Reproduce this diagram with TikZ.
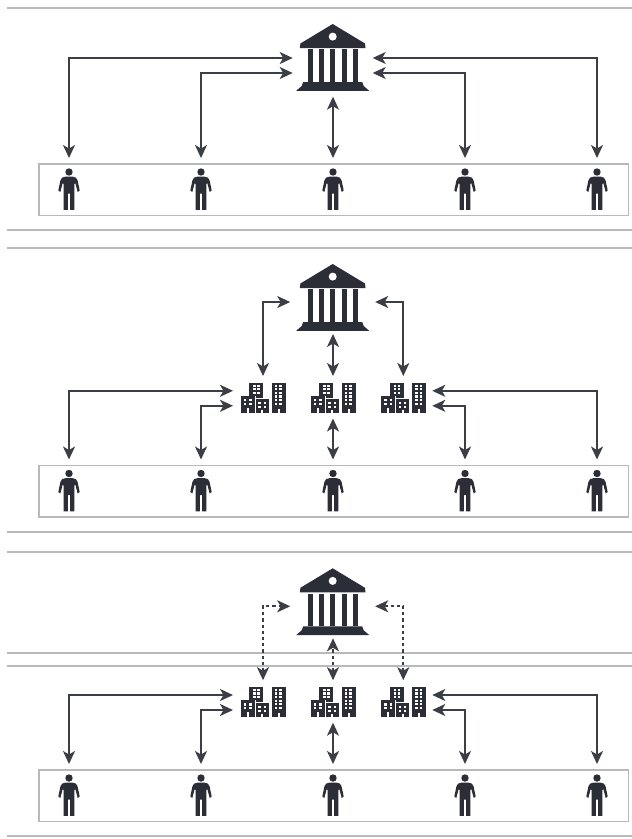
\documentclass[tikz,border=0pt]{standalone}
\usetikzlibrary{arrows.meta}
\definecolor{icon}{HTML}{2C2E37}
\definecolor{wire}{HTML}{3C3E46}
\definecolor{rule}{HTML}{B9B9B9}
\tikzset{
  x=1pt,y=-1pt,
  rulepath/.style={draw=rule,line width=2pt},
  link/.style={draw=wire,line width=1.7pt,{Stealth[length=13pt,width=12pt,inset=3.5pt]}-{Stealth[length=13pt,width=12pt,inset=3.5pt]}},
  dlink/.style={link,dash pattern=on 3.2pt off 3pt},
  panelbox/.style={draw=rule,line width=1.8pt,minimum width=589.5pt,minimum height=51.5pt,inner sep=0pt,anchor=north west},
  bank/.pic={
    \fill[icon] (0,0) -- (32.3,19.5) -- (32.8,24) -- (-32.8,24) -- (-32.3,19.5) -- cycle;
    \fill[white] (0,12.6) circle[radius=4];
    \foreach \cx in {-22.5,-11.2,0,11.4,22.6}{
      \fill[icon] (\cx-2.5,25.3) rectangle (\cx+2.5,57.5);
    }
    \fill[icon] (-29.5,58) -- (29.5,58) -- (31,62) -- (36.5,66.8) -- (-36.5,66.8) -- (-31,62) -- cycle;
    \coordinate (-wa) at (-40,34);
    \coordinate (-wb) at (-40,49);
    \coordinate (-wc) at (-42.5,38);
    \coordinate (-ea) at (40,34);
    \coordinate (-eb) at (40,49);
    \coordinate (-ec) at (42.5,38);
    \coordinate (-s) at (0,70);
    \coordinate (-t) at (0,72.7);
  },
  person/.pic={
    \fill[icon] (0,0) circle[radius=3.7];
    \fill[icon] (-3.5,4.6) -- (3.5,4.6) .. controls (6.5,4.8) and (8,6) .. (8.6,8.5)
      -- (10.7,18.5) -- (8.7,20) -- (6.3,11) -- (5.4,12) -- (5.4,37.8) -- (1.2,37.8) -- (1.2,21.5)
      -- (-1.2,21.5) -- (-1.2,37.8) -- (-5.4,37.8) -- (-5.4,12) -- (-6.3,11) -- (-8.7,20) -- (-10.7,18.5)
      -- (-8.6,8.5) .. controls (-8,6) and (-6.5,4.8) .. (-3.5,4.6) -- cycle;
    \coordinate (-n) at (0,-14);
  },
  block/.pic={
    \fill[icon] (-13.7,0) rectangle (0.3,14);
    \fill[icon] (8.7,0) rectangle (22.7,30.5);
    \fill[white] (-9,13) rectangle (7,31);
    \fill[icon] (-22.3,13.3) rectangle (-8,30.5);
    \fill[icon] (-7.2,16.7) rectangle (6,30.5);
    \fill[icon] (-7.2,13.5) rectangle (0.3,15.5);
    \foreach \wy in {2.2,5.6,9}{
      \foreach \wx in {-9.6,-5.6}{\fill[white] (\wx,\wy) rectangle +(2.4,2.2);}
    }
    \foreach \wy in {2,5.6,9.2,12.8,16.4,20}{
      \foreach \wx in {12,16.2}{\fill[white] (\wx,\wy) rectangle +(2.4,2.2);}
    }
    \foreach \wy in {16.5,20.2}{
      \foreach \wx in {-19.4,-13.8}{\fill[white] (\wx,\wy) rectangle +(2.6,2.3);}
    }
    \foreach \wy in {19.6,23}{
      \foreach \wx in {-4.6,0.6}{\fill[white] (\wx,\wy) rectangle +(2.4,2.1);}
    }
    \fill[white] (14.6,26) rectangle (16.8,30.5);
    \fill[white] (-16.4,25.5) rectangle (-14.2,30.5);
    \fill[white] (-1.6,27) rectangle (0.2,30.5);
    \coordinate (-wa) at (-30,8.3);
    \coordinate (-wb) at (-30,23.3);
    \coordinate (-ea) at (29,8.3);
    \coordinate (-eb) at (29,23.3);
    \coordinate (-n) at (0,-6.5);
    \coordinate (-s) at (0,36);
  }
}
\begin{document}
\begin{tikzpicture}
\useasboundingbox (0,0) rectangle (632,839);
\fill[white] (0,0) rectangle (632,839);
% horizontal rules
\foreach \ry in {8,230,248,532,552,653,666,836}{
  \path[rulepath] (7,\ry) -- (632,\ry);
}
% panels
\node[panelbox] (boxA) at (38,163) {};
\node[panelbox] (boxB) at (38,464.5) {};
\node[panelbox] (boxC) at (38,769) {};
% people
\foreach \pn/\px in {a/69,b/201,c/333,d/465,e/597}{
  \pic (pA\pn) at (\px,172) {person};
  \pic (pB\pn) at (\px,473.5) {person};
  \pic (pC\pn) at (\px,778) {person};
}
% panel 1
\pic (bankA) at (332.7,24) {bank};
\draw[link] (pAa-n) |- (bankA-wa);
\draw[link] (pAb-n) |- (bankA-wb);
\draw[link] (pAc-n) -- (pAc-n |- bankA-t);
\draw[link] (pAd-n) |- (bankA-eb);
\draw[link] (pAe-n) |- (bankA-ea);
% panel 2
\pic (bankB) at (332.7,264) {bank};
\pic (blkBa) at (263,382.5) {block};
\pic (blkBb) at (333,382.5) {block};
\pic (blkBc) at (403.3,382.5) {block};
\draw[link] (blkBa-n) |- (bankB-wc);
\draw[link] (blkBb-n) -- (blkBb-n |- bankB-s);
\draw[link] (blkBc-n) |- (bankB-ec);
\draw[link] (pBa-n) |- (blkBa-wa);
\draw[link] (pBb-n) |- (blkBa-wb);
\draw[link] (pBc-n) -- (blkBb-s);
\draw[link] (pBd-n) |- (blkBc-eb);
\draw[link] (pBe-n) |- (blkBc-ea);
% panel 3
\pic (bankC) at (332.7,568.3) {bank};
\pic (blkCa) at (263,686.7) {block};
\pic (blkCb) at (333,686.7) {block};
\pic (blkCc) at (403.3,686.7) {block};
\draw[dlink] (blkCa-n) |- (bankC-wc);
\draw[dlink] (blkCb-n) -- (blkCb-n |- bankC-s);
\draw[dlink] (blkCc-n) |- (bankC-ec);
\draw[link] (pCa-n) |- (blkCa-wa);
\draw[link] (pCb-n) |- (blkCa-wb);
\draw[link] (pCc-n) -- (blkCb-s);
\draw[link] (pCd-n) |- (blkCc-eb);
\draw[link] (pCe-n) |- (blkCc-ea);
\end{tikzpicture}
\end{document}
